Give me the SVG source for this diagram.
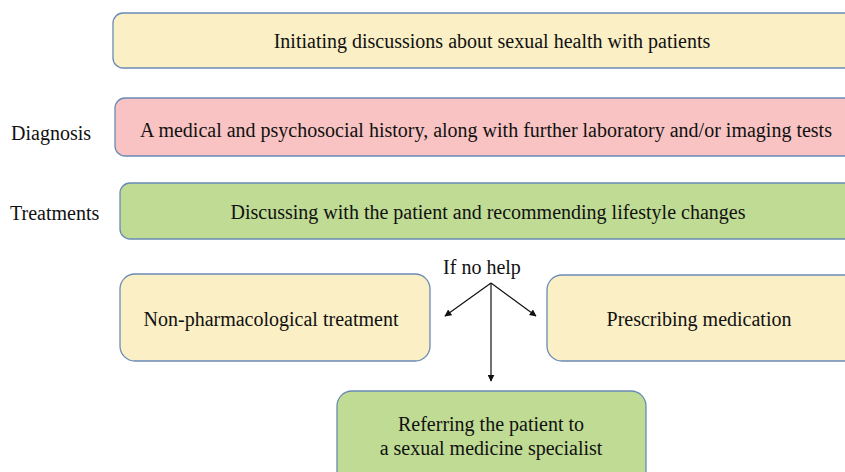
<svg xmlns="http://www.w3.org/2000/svg" width="845" height="472" viewBox="0 0 845 472">
<style>
.box{stroke:#6a8ab5;stroke-width:1.3}
.y{fill:#faefc5}
.p{fill:#f8c3c2}
.g{fill:#bfdb94}
text{font-family:"Liberation Serif","Times New Roman",serif;font-size:20px;fill:#111}
.c{text-anchor:middle}
.con{stroke:#111;stroke-width:1.2;fill:none}
</style>
<defs>
<marker id="ah" viewBox="0 0 10 10" refX="9" refY="5" markerWidth="7" markerHeight="7" orient="auto" markerUnits="userSpaceOnUse">
<path d="M0,0 L10,5 L0,10 z" fill="#111"/>
</marker>
</defs>
<g id="label-diagnosis"><text x="11" y="140">Diagnosis</text></g>
<g id="label-treatments"><text x="10" y="220">Treatments</text></g>
<g id="node-initiating">
<rect class="box y" x="113" y="13" width="760" height="55" rx="10"/>
<text class="c" x="492" y="48">Initiating discussions about sexual health with patients</text>
</g>
<g id="node-diagnosis">
<rect class="box p" x="115" y="98" width="760" height="58" rx="10"/>
<text class="c" x="486" y="137">A medical and psychosocial history, along with further laboratory and/or imaging tests</text>
</g>
<g id="node-lifestyle">
<rect class="box g" x="120" y="183" width="760" height="56" rx="10"/>
<text class="c" x="488" y="219">Discussing with the patient and recommending lifestyle changes</text>
</g>
<g id="node-nonpharm">
<rect class="box y" x="120" y="274" width="310" height="87" rx="15"/>
<text class="c" x="271" y="326">Non-pharmacological treatment</text>
</g>
<g id="node-medication">
<rect class="box y" x="547" y="275" width="320" height="86" rx="15"/>
<text class="c" x="699" y="326">Prescribing medication</text>
</g>
<g id="node-referral">
<rect class="box g" x="337" y="391" width="309" height="100" rx="15"/>
<text class="c" x="491" y="431">Referring the patient to</text>
<text class="c" x="491" y="455">a sexual medicine specialist</text>
</g>
<g id="connectors">
<text class="c" x="482" y="274">If no help</text>
<line class="con" x1="491" y1="283" x2="445" y2="316" marker-end="url(#ah)"/>
<line class="con" x1="491" y1="283" x2="536" y2="316" marker-end="url(#ah)"/>
<line class="con" x1="491" y1="283" x2="491" y2="381" marker-end="url(#ah)"/>
</g>
</svg>
